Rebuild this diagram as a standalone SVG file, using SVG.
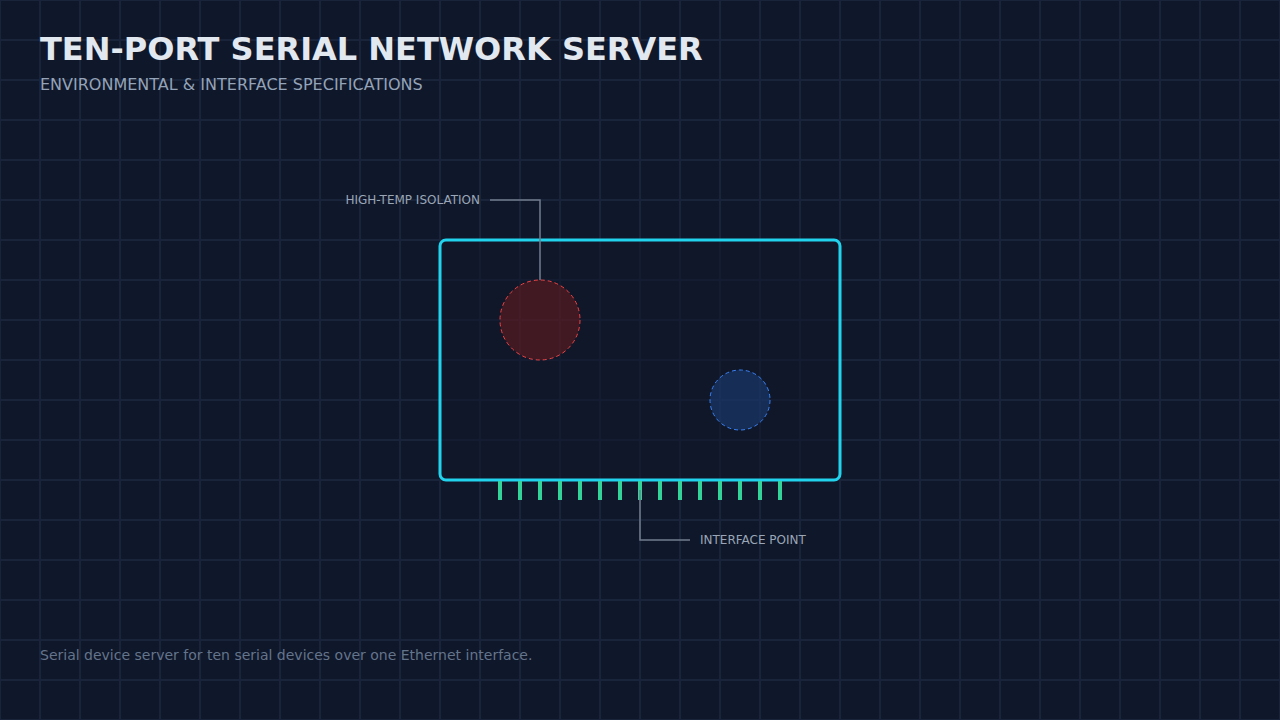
<svg xmlns="http://www.w3.org/2000/svg" width="1280" height="720" viewBox="0 0 1280 720">
<defs>
<pattern id="grid" x="-20" y="-20" width="40" height="40" patternUnits="userSpaceOnUse"><path d="M20 0V40M0 20H40" fill="none" stroke="#19233a" stroke-width="2"/></pattern>
<style>
text{font-family:"DejaVu Sans",sans-serif}
.lead{fill:none;stroke:#717d8f;stroke-width:1.5}
.lbl{font-size:12px;fill:#9aa6b6}
.pin{stroke:#34d399;stroke-width:4}
</style>
</defs>
<rect width="1280" height="720" fill="#0f172a"/>
<rect width="1280" height="720" fill="url(#grid)"/>
<text x="40" y="60" font-size="32" font-weight="bold" fill="#e2e8f0">TEN-PORT SERIAL NETWORK SERVER</text>
<text x="40" y="90" font-size="16" fill="#94a3b8">ENVIRONMENTAL &amp; INTERFACE SPECIFICATIONS</text>
<g id="server"><rect x="440" y="240" width="400" height="240" rx="6" fill="#0f172a" fill-opacity="0.6" stroke="#22d3ee" stroke-width="3"/></g>
<g id="pins">
<path class="pin" d="M500 481V500M520 481V500M540 481V500M560 481V500M580 481V500M600 481V500M620 481V500M640 481V500M660 481V500M680 481V500M700 481V500M720 481V500M740 481V500M760 481V500M780 481V500"/>
</g>
<g id="hot"><circle cx="540" cy="320" r="40" fill="#7f1d1d" fill-opacity="0.45" stroke="#ef4444" stroke-width="1" stroke-dasharray="4 3"/></g>
<g id="cool"><circle cx="740" cy="400" r="30" fill="#1e4a8f" fill-opacity="0.45" stroke="#3b82f6" stroke-width="1" stroke-dasharray="4 3"/></g>
<g id="connectors">
<path class="lead" d="M490 200H540V280"/>
<path class="lead" d="M640 490V540H690"/>
</g>
<text class="lbl" x="480" y="204" text-anchor="end">HIGH-TEMP ISOLATION</text>
<text class="lbl" x="700" y="544">INTERFACE POINT</text>
<text x="40" y="660" font-size="14" fill="#64748b">Serial device server for ten serial devices over one Ethernet interface.</text>
</svg>
